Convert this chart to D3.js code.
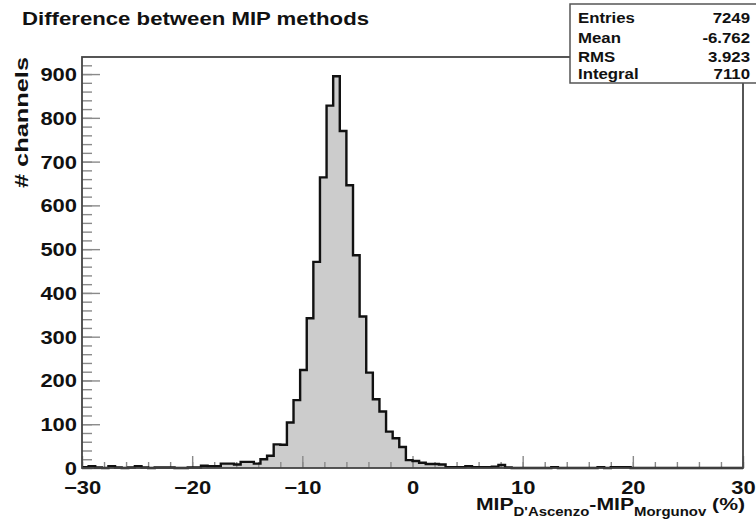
<!DOCTYPE html>
<html>
<head>
<meta charset="utf-8">
<script src="https://cdn.jsdelivr.net/npm/d3@7"></script>
<style>
  html, body { margin: 0; padding: 0; background: #fff; }
  svg { display: block; }
  text { font-family: "Liberation Sans", Arial, Helvetica, sans-serif; font-weight: bold; fill: #111; }
</style>
</head>
<body>
<svg id="chart" width="756" height="519"></svg>
<script>
// Histogram of the per-channel MIP difference, 100 bins of 0.6 % from -30 to 30
const binLow = -30;
const binHigh = 30;
const binCounts = [
  2, 4, 1, 0, 4, 1, 0, 1, 4, 1,
  0, 1, 1, 1, 0, 0, 1, 1, 5, 4,
  4, 10, 10, 8, 14, 14, 10, 20, 28, 54,
  53, 104, 155, 224, 342, 471, 664, 828, 895, 770,
  646, 486, 346, 218, 157, 129, 83, 68, 48, 18,
  16, 12, 9, 9, 8, 2, 2, 2, 4, 2,
  2, 2, 3, 7, 1, 0, 0, 0, 0, 0,
  0, 2, 0, 0, 0, 0, 0, 0, 2, 0,
  2, 2, 2, 0, 0, 0, 0, 0, 0, 0,
  0, 0, 0, 0, 0, 0, 0, 0, 0, 0
];
const yMax = 939;

const xMajorTicks = [-30, -20, -10, 0, 10, 20, 30];
const yMajorTicks = [0, 100, 200, 300, 400, 500, 600, 700, 800, 900];

const statLabels = ["Entries", "Mean", "RMS", "Integral"];
const statValues = ["7249", "-6.762", "3.923", "7110"];

const titleText = "Difference between MIP methods";
const yTitle = "# channels";

const svg = d3.select("#chart");
const frame = { left: 82, right: 743, top: 57, bottom: 468 };

const x = d3.scaleLinear().domain([binLow, binHigh]).range([frame.left, frame.right]);
const y = d3.scaleLinear().domain([0, yMax]).range([frame.bottom, frame.top]);

const binWidth = (binHigh - binLow) / binCounts.length;
const steps = binCounts.map((c, i) => ({ lo: binLow + i * binWidth, c }));
steps.push({ lo: binHigh, c: binCounts[binCounts.length - 1] });

// bold text stretched along its baseline; when a width is given the
// stretch is chosen so the text spans exactly that width
function label(parent, px, py, str, size, anchor, stretch, rotate) {
  const g = parent.append("g");
  const t = g.append("text").attr("text-anchor", anchor).style("font-size", size + "px").text(str);
  g.fit = function (width) {
    const w = t.node().getBBox().width;
    const s = width ? width / w : stretch;
    g.attr("transform", `translate(${px},${py})` + (rotate ? ` rotate(${rotate})` : "") + ` scale(${s},1)`);
    return g;
  };
  g.fit(null);
  g.t = t;
  return g;
}

// filled histogram
svg.append("path")
  .datum(steps)
  .attr("fill", "#cccccc")
  .attr("d", d3.area().curve(d3.curveStepAfter)
    .x(d => x(d.lo)).y0(y(0)).y1(d => y(d.c)));

// minor and major ticks
const xMinor = d3.range(binLow, binHigh + 0.001, 2);
const yMinor = d3.range(0, yMax, 20);

const tickStyle = sel => sel.selectAll(".tick line").attr("stroke", "#8a8a8a").attr("stroke-width", 1.4);

const gxMinor = svg.append("g").attr("transform", `translate(0,${frame.bottom})`)
  .call(d3.axisBottom(x).tickValues(xMinor).tickSizeInner(-6).tickSizeOuter(0).tickFormat(""));
gxMinor.select(".domain").remove(); tickStyle(gxMinor);

const gyMinor = svg.append("g").attr("transform", `translate(${frame.left},0)`)
  .call(d3.axisLeft(y).tickValues(yMinor).tickSizeInner(-10).tickSizeOuter(0).tickFormat(""));
gyMinor.select(".domain").remove(); tickStyle(gyMinor);

const gx = svg.append("g").attr("transform", `translate(0,${frame.bottom})`)
  .call(d3.axisBottom(x).tickValues(xMajorTicks).tickSizeInner(-12).tickSizeOuter(0).tickFormat(d3.format("d")));
gx.select(".domain").remove(); tickStyle(gx);
gx.selectAll(".tick text")
  .attr("y", 0).attr("dy", 0)
  .attr("transform", "translate(0,26) scale(1.22,1)")
  .style("font-size", "18px").attr("fill", "#111");

const gy = svg.append("g").attr("transform", `translate(${frame.left},0)`)
  .call(d3.axisLeft(y).tickValues(yMajorTicks).tickSizeInner(-18).tickSizeOuter(0).tickFormat(d3.format("d")));
gy.select(".domain").remove(); tickStyle(gy);
gy.selectAll(".tick text")
  .attr("x", 0).attr("dy", "0.36em")
  .attr("transform", "translate(-5,0) scale(1.22,1)")
  .style("font-size", "18px").attr("fill", "#111");

// histogram outline
svg.append("path")
  .datum(steps)
  .attr("fill", "none")
  .attr("stroke", "#111")
  .attr("stroke-width", 2.4)
  .attr("d", d3.line().curve(d3.curveStepAfter).x(d => x(d.lo)).y(d => y(d.c)));

// frame
svg.append("rect")
  .attr("x", frame.left).attr("y", frame.top)
  .attr("width", frame.right - frame.left).attr("height", frame.bottom - frame.top)
  .attr("fill", "none").attr("stroke", "#444").attr("stroke-width", 1.8);

// title
label(svg, 22, 25, titleText, 19, "start", 1.16).fit(347);

// y-axis title, running up to the top of the frame
label(svg, 28, frame.top, yTitle, 19, "end", 1.2, -90).fit(131);

// x-axis title with subscripts
const xt = label(svg, 745, 510, "", 17, "end", 1.15);
xt.t.append("tspan").text("MIP");
xt.t.append("tspan").attr("dy", 6).style("font-size", "12px").text("D'Ascenzo");
xt.t.append("tspan").attr("dy", -6).text("-MIP");
xt.t.append("tspan").attr("dy", 6).style("font-size", "12px").text("Morgunov");
xt.t.append("tspan").attr("dy", -6).text(" (%)");
xt.fit(269);

// statistics box
svg.append("rect")
  .attr("x", 570).attr("y", 4).attr("width", 190).attr("height", 79)
  .attr("fill", "#fff").attr("stroke", "#555").attr("stroke-width", 1.5);
const rowY = [22.5, 42.5, 62, 79];
statLabels.forEach((s, i) => {
  label(svg, 578, rowY[i], s, 15, "start", 1.12);
  label(svg, 750, rowY[i], statValues[i], 15, "end", 1.12);
});
</script>
</body>
</html>
